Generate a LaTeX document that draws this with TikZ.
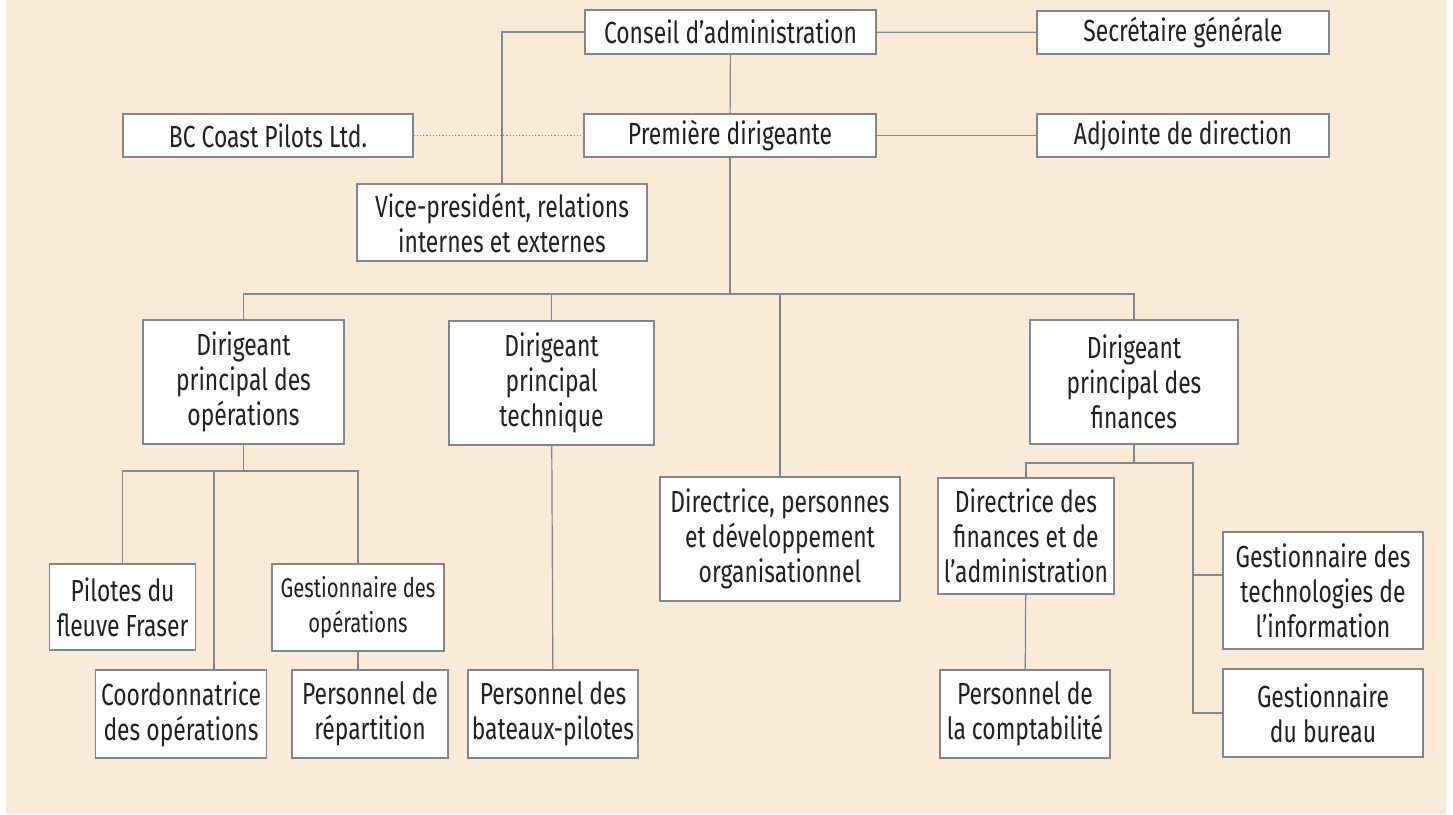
\documentclass[tikz,border=0pt]{standalone}
\usepackage{fontspec}
\setmainfont[FakeStretch=0.75]{Fira Sans}
\definecolor{bg}{RGB}{251,235,214}
\definecolor{edge}{RGB}{128,133,142}
\definecolor{ink}{RGB}{35,31,32}

\begin{document}
\begin{tikzpicture}[x=1pt,y=-1pt,
    box/.style={draw=edge,line width=1.2pt,fill=white,text=ink,align=center,
        inner sep=2pt,font=\fontsize{30.5}{35}\selectfont},
    small/.style={font=\fontsize{27}{35}\selectfont},
    link/.style={draw=edge,line width=1.2pt}]
        \useasboundingbox (0,0) rectangle (1453,814);
        \fill[bg] (6,0) rectangle (1446,814);

        \node[box,minimum width=291,minimum height=44] (conseil) at (730.5,32) {Conseil d’administration};
        \node[box,minimum width=292,minimum height=43] (secretaire) at (1183,32.5) {Secrétaire générale};
        \node[box,minimum width=290,minimum height=43] (bcpilots) at (268,135.5) {BC Coast Pilots Ltd.};
        \node[box,minimum width=292,minimum height=43] (premiere) at (730,135.5) {Première dirigeante};
        \node[box,minimum width=292,minimum height=43] (adjointe) at (1183,135.5) {Adjointe de direction};
        \node[box,minimum width=290,minimum height=77] (vp) at (502,222.5) {Vice-presidént, relations\\internes et externes};

        \node[box,minimum width=201,minimum height=124] (dirops) at (243.5,382) {Dirigeant\\principal des\\opérations};
        \node[box,minimum width=205,minimum height=124] (dirtech) at (551.5,383) {Dirigeant\\principal\\technique};
        \node[box,minimum width=240,minimum height=124] (dirpers) at (780,539) {Directrice, personnes\\et développement\\organisationnel};
        \node[box,minimum width=208,minimum height=124] (dirfin) at (1134,382) {Dirigeant\\principal des\\finances};

        \node[box,minimum width=146,minimum height=86] (pilotes) at (122.6,607) {Pilotes du\\fleuve Fraser};
        \node[box,small,minimum width=172,minimum height=87] (gestops) at (358,607.5) {Gestionnaire des\\opérations};
        \node[box,minimum width=171,minimum height=88] (coord) at (181,714) {Coordonnatrice\\des opérations};
        \node[box,minimum width=156,minimum height=88] (repart) at (370,714) {Personnel de\\répartition};
        \node[box,minimum width=170,minimum height=88] (bateaux) at (553,714) {Personnel des\\bateaux-pilotes};

        \node[box,minimum width=176,minimum height=116] (dirfinadm) at (1026,536) {Directrice des\\finances et de\\l’administration};
        \node[box,minimum width=170,minimum height=88] (compta) at (1025,714) {Personnel de\\la comptabilité};
        \node[box,minimum width=200,minimum height=117] (gestti) at (1323,590.5) {Gestionnaire des\\technologies de\\l’information};
        \node[box,minimum width=200,minimum height=88] (bureau) at (1323,713) {Gestionnaire\\du bureau};

        \coordinate (bus) at (730,294);
        \coordinate (opsbus) at (243.5,471);
        \coordinate (finbus) at (1134,463);
        \coordinate (finrail) at (1193,463);

        \draw[link] (conseil.west) -| (vp.north);
        \draw[link] (conseil) -- (secretaire);
        \draw[link] (conseil) -- (premiere);
        \draw[link] (premiere) -- (adjointe);
        \draw[edge,line width=1.2pt,dotted] (bcpilots) -- (premiere);

        \draw[link] (premiere) -- (bus);
        \foreach \n in {dirops,dirtech,dirpers,dirfin}{
            \draw[link] (bus) -| (\n.north);
        }

        \draw[link] (dirops) -- (opsbus);
        \draw[link] (opsbus) -| (pilotes.north);
        \draw[link] (opsbus) -| ([xshift=33pt]coord.north);
        \draw[link] (opsbus) -| (gestops.north);
        \draw[link] (gestops.south) -- (gestops.south |- repart.north);
        \draw[link] (dirtech) -- (bateaux);

        \draw[link] (dirfin) -- (finbus);
        \draw[link] (finbus) -| (dirfinadm.north);
        \draw[link] (finbus) -- (finrail) |- (bureau.west);
        \draw[link] (finrail) |- ([yshift=15.5pt]gestti.west);
        \draw[link] (dirfinadm) -- (compta);

    \end{tikzpicture}
\end{document}
